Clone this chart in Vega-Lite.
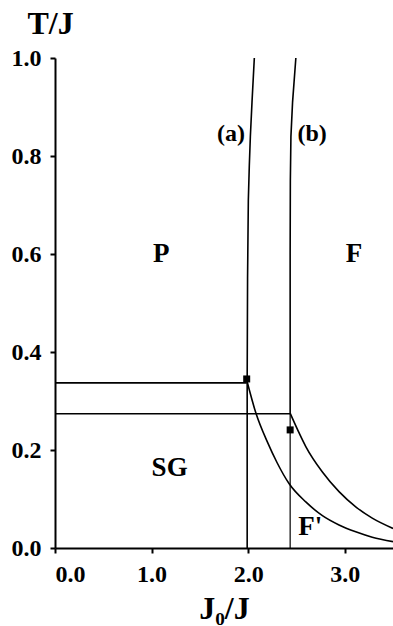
{
  "$schema": "https://vega.github.io/schema/vega-lite/v6.json",
  "width": 338,
  "height": 490,
  "autosize": {"type": "none"},
  "padding": {"left": 55, "top": 58, "right": 0, "bottom": 78},
  "background": "white",
  "config": {
    "view": {"stroke": null},
    "font": "Liberation Serif",
    "axis": {
      "grid": false,
      "domainColor": "black",
      "domainWidth": 2,
      "tickColor": "black",
      "tickWidth": 2,
      "tickSize": 5,
      "labelFont": "Liberation Serif",
      "labelFontWeight": "bold",
      "labelFontSize": 24,
      "labelColor": "black",
      "titleFont": "Liberation Serif",
      "titleFontWeight": "bold",
      "titleFontSize": 32,
      "titleColor": "black"
    }
  },
  "datasets": {
    "boundaries": [
      {"seg": "hA", "i": 0, "x": 0, "t": 0.337, "w": "thick"},
      {"seg": "hA", "i": 1, "x": 1.985, "t": 0.337, "w": "thick"},
      {"seg": "hB", "i": 0, "x": 0, "t": 0.274, "w": "thick"},
      {"seg": "hB", "i": 1, "x": 2.435, "t": 0.274, "w": "thick"},
      {"seg": "vA", "i": 0, "x": 1.99, "t": 0, "w": "thick"},
      {"seg": "vA", "i": 1, "x": 1.99, "t": 0.343, "w": "thick"},
      {"seg": "vA", "i": 2, "x": 1.994, "t": 0.55, "w": "thick"},
      {"seg": "vA", "i": 3, "x": 2.002, "t": 0.71, "w": "thick"},
      {"seg": "vA", "i": 4, "x": 2.012, "t": 0.78, "w": "thick"},
      {"seg": "vA", "i": 5, "x": 2.023, "t": 0.84, "w": "thick"},
      {"seg": "vA", "i": 6, "x": 2.04, "t": 0.91, "w": "thick"},
      {"seg": "vA", "i": 7, "x": 2.064, "t": 1.0, "w": "thick"},
      {"seg": "vB0", "i": 0, "x": 2.435, "t": 0, "w": "thin"},
      {"seg": "vB0", "i": 1, "x": 2.435, "t": 0.274, "w": "thin"},
      {"seg": "vB", "i": 0, "x": 2.435, "t": 0.274, "w": "thick"},
      {"seg": "vB", "i": 1, "x": 2.435, "t": 0.6, "w": "thick"},
      {"seg": "vB", "i": 2, "x": 2.437, "t": 0.75, "w": "thick"},
      {"seg": "vB", "i": 3, "x": 2.443, "t": 0.84, "w": "thick"},
      {"seg": "vB", "i": 4, "x": 2.46, "t": 0.91, "w": "thick"},
      {"seg": "vB", "i": 5, "x": 2.494, "t": 1.0, "w": "thick"}
    ],
    "curves": [
      {"seg": "cL", "x": 1.985, "t": 0.343},
      {"seg": "cL", "x": 2.081, "t": 0.275},
      {"seg": "cL", "x": 2.2, "t": 0.216},
      {"seg": "cL", "x": 2.3, "t": 0.174},
      {"seg": "cL", "x": 2.425, "t": 0.131},
      {"seg": "cL", "x": 2.597, "t": 0.094},
      {"seg": "cL", "x": 2.769, "t": 0.066},
      {"seg": "cL", "x": 2.941, "t": 0.047},
      {"seg": "cL", "x": 3.114, "t": 0.033},
      {"seg": "cL", "x": 3.285, "t": 0.022},
      {"seg": "cL", "x": 3.5, "t": 0.013},
      {"seg": "cR", "x": 2.435, "t": 0.275},
      {"seg": "cR", "x": 2.52, "t": 0.238},
      {"seg": "cR", "x": 2.597, "t": 0.207},
      {"seg": "cR", "x": 2.769, "t": 0.155},
      {"seg": "cR", "x": 2.941, "t": 0.115},
      {"seg": "cR", "x": 3.114, "t": 0.084},
      {"seg": "cR", "x": 3.285, "t": 0.061},
      {"seg": "cR", "x": 3.5, "t": 0.04}
    ],
    "points": [
      {"x": 1.985, "t": 0.345},
      {"x": 2.435, "t": 0.241}
    ],
    "labels": [
      {"text": "P", "x": 1.1, "t": 0.6, "size": 27},
      {"text": "F", "x": 3.096, "t": 0.6, "size": 27},
      {"text": "SG", "x": 1.187, "t": 0.163, "size": 27},
      {"text": "F'", "x": 2.642, "t": 0.043, "size": 27},
      {"text": "(a)", "x": 1.823, "t": 0.845, "size": 24},
      {"text": "(b)", "x": 2.663, "t": 0.845, "size": 24}
    ]
  },
  "encoding": {
    "x": {
      "type": "quantitative",
      "scale": {"domain": [0, 3.5], "nice": false},
      "axis": {
        "title": "J₀/J",
        "values": [0, 1, 2, 3],
        "format": ".1f",
        "labelPadding": 9,
        "titleY": 70,
        "titleBaseline": "alphabetic"
      }
    },
    "y": {
      "type": "quantitative",
      "scale": {"domain": [0, 1], "nice": false},
      "axis": {
        "title": "T/J",
        "values": [0, 0.2, 0.4, 0.6, 0.8, 1.0],
        "format": ".1f",
        "labelPadding": 9,
        "titleAngle": 0,
        "titleAlign": "left",
        "titleBaseline": "alphabetic",
        "titleX": -28,
        "titleY": -25
      }
    }
  },
  "layer": [
    {
      "data": {"name": "boundaries"},
      "mark": {"type": "line", "color": "black"},
      "encoding": {
        "x": {"field": "x"},
        "y": {"field": "t"},
        "detail": {"field": "seg"},
        "order": {"field": "i"},
        "strokeWidth": {
          "field": "w",
          "type": "nominal",
          "scale": {"domain": ["thick", "thin"], "range": [1.6, 1.2]},
          "legend": null
        }
      }
    },
    {
      "data": {"name": "curves"},
      "mark": {"type": "line", "color": "black", "strokeWidth": 1.6, "interpolate": "monotone"},
      "encoding": {
        "x": {"field": "x"},
        "y": {"field": "t"},
        "detail": {"field": "seg"}
      }
    },
    {
      "data": {"name": "points"},
      "mark": {"type": "point", "shape": "square", "filled": true, "color": "black", "opacity": 1, "size": 49},
      "encoding": {
        "x": {"field": "x"},
        "y": {"field": "t"}
      }
    },
    {
      "data": {"name": "labels"},
      "mark": {"type": "text", "font": "Liberation Serif", "fontWeight": "bold", "color": "black", "baseline": "middle", "align": "center"},
      "encoding": {
        "x": {"field": "x"},
        "y": {"field": "t"},
        "text": {"field": "text"},
        "size": {"field": "size", "type": "quantitative", "scale": null}
      }
    }
  ]
}
